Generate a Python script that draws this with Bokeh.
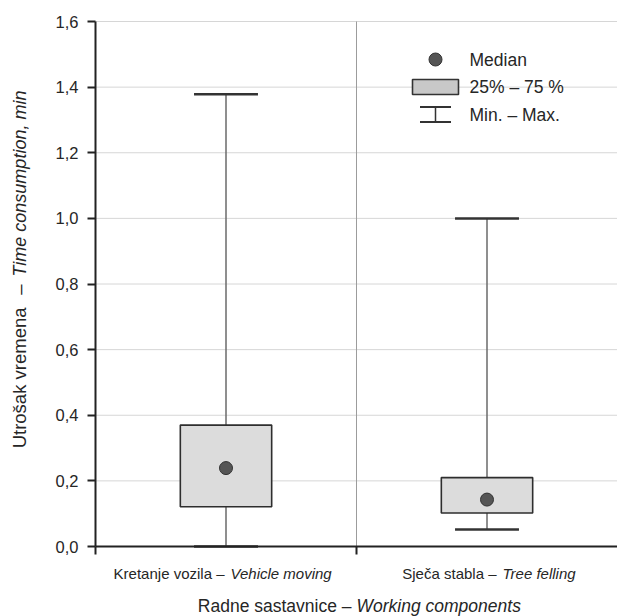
from bokeh.plotting import figure
from bokeh.models import Range1d, FixedTicker, Label
from bokeh.embed import file_html
from bokeh.resources import INLINE
import math

# ---------------- data ----------------
categories_hr = ["Kretanje vozila", "Sječa stabla"]
categories_en = ["Vehicle moving", "Tree felling"]
q_min = [0.0, 0.052]
q1 = [0.121, 0.102]
median = [0.239, 0.143]
q3 = [0.370, 0.210]
q_max = [1.378, 1.0]

y_ticks = [0.0, 0.2, 0.4, 0.6, 0.8, 1.0, 1.2, 1.4, 1.6]
y_tick_labels = ["0,0", "0,2", "0,4", "0,6", "0,8", "1,0", "1,2", "1,4", "1,6"]
legend_labels = ["Median", "25% – 75 %", "Min. – Max."]
x_title = ["Radne sastavnice –", "Working components"]
y_title = ["Utrošak vremena", "–", "Time consumption, min"]

# ---------------- layout ----------------
W, H = 617, 616
L, R, T, B = 95, 0, 21, 70          # margins around the data area, px
FW, FH = W - L - R, H - T - B
X0, X1, Y0, Y1 = 0, len(categories_hr), 0, 1.6
xpp = (X1 - X0) / FW                # data units per pixel
ypp = (Y1 - Y0) / FH
FONT = "Liberation Sans"
TXT = "#262626"

# the frame covers the whole canvas; axes are pinned at the data origin
p = figure(width=W, height=H,
           x_range=Range1d(X0 - L * xpp, X1 + R * xpp),
           y_range=Range1d(Y0 - B * ypp, Y1 + T * ypp),
           output_backend="svg", toolbar_location=None,
           min_border_left=0, min_border_right=0, min_border_top=0, min_border_bottom=0)
p.outline_line_color = None
p.background_fill_color = "white"
p.border_fill_color = "white"

for ax in (p.xaxis[0], p.yaxis[0]):
    ax.axis_line_color = "#222222"
    ax.axis_line_width = 2
    ax.major_tick_line_color = "#222222"
    ax.major_tick_line_width = 2
    ax.major_tick_out = 8
    ax.major_tick_in = 0
    ax.minor_tick_line_color = None
    ax.major_label_text_font = FONT
    ax.major_label_text_font_size = "16.5px"
    ax.major_label_text_color = TXT

x_bounds = list(range(len(categories_hr) + 1))
p.xaxis.fixed_location = Y0
p.xaxis.bounds = (X0, X1)
p.xaxis.ticker = FixedTicker(ticks=x_bounds[:-1])
p.xaxis.major_label_overrides = {b: "" for b in x_bounds}

p.yaxis.fixed_location = X0
p.yaxis.bounds = (Y0, Y1)
p.yaxis.ticker = FixedTicker(ticks=y_ticks)
p.yaxis.major_label_overrides = dict(zip(y_ticks, y_tick_labels))
p.yaxis.major_label_standoff = 9

# grid lines, limited to the data area
p.ygrid.visible = False
p.xgrid.visible = False
p.segment(x0=[X0] * len(y_ticks), x1=[X1] * len(y_ticks), y0=y_ticks, y1=y_ticks,
          line_color="#d6d6d6", line_width=1)
inner = x_bounds[1:-1]
p.segment(x0=inner, x1=inner, y0=[Y0] * len(inner), y1=[Y1] * len(inner),
          line_color="#9c9c9c", line_width=1)

# ---------------- boxes ----------------
xc = [i + 0.5 for i in range(len(categories_hr))]
box_w = 0.35
cap_w = 0.245

p.segment(x0=xc, y0=q_min, x1=xc, y1=q_max, line_color="#6a6a6a", line_width=1.5)
p.vbar(x=xc, width=box_w, bottom=q1, top=q3, fill_color="#dcdcdc",
       line_color="#2e2e2e", line_width=1.6)
for vals in (q_max, q_min):
    p.segment(x0=[x - cap_w / 2 for x in xc], y0=vals,
              x1=[x + cap_w / 2 for x in xc], y1=vals,
              line_color="#333333", line_width=2.5)
p.scatter(x=xc, y=median, size=13, fill_color="#555555", line_color="#333333", line_width=1)

# ---------------- texts ----------------
def dlabel(x, y, text, align, dx=0.0, dy=0.0, italic=False, size="15px", angle=0.0):
    return Label(x=x, y=y, x_offset=dx, y_offset=dy, text=text, angle=angle,
                 text_align=align, text_baseline="middle", text_font=FONT,
                 text_font_style="italic" if italic else "normal",
                 text_font_size=size, text_color=TXT)

cat_split = [(-1.5, 4.5), (9.5, 15.5)]
cat_dy = -27
for i, x in enumerate(xc):
    a, b = cat_split[i]
    p.add_layout(dlabel(x, Y0, categories_hr[i] + " –", "right", dx=a, dy=cat_dy))
    p.add_layout(dlabel(x, Y0, categories_en[i], "left", dx=b, dy=cat_dy, italic=True))

xmid = (X0 + X1) / 2
xt_dy = -59
p.add_layout(dlabel(xmid, Y0, x_title[0], "right", dx=-5, dy=xt_dy, size="17.5px"))
p.add_layout(dlabel(xmid, Y0, x_title[1], "left", dx=0, dy=xt_dy, italic=True, size="17.5px"))

yt_dx = -76
p.add_layout(dlabel(X0, Y0, y_title[0], "right", dx=yt_dx, dy=239, size="18.5px", angle=math.pi / 2))
p.add_layout(dlabel(X0, Y0, y_title[1], "center", dx=yt_dx, dy=257, size="18.5px", angle=math.pi / 2))
p.add_layout(dlabel(X0, Y0, y_title[2], "left", dx=yt_dx, dy=270, italic=True, size="18px",
                    angle=math.pi / 2))

# ---------------- legend (drawn manually, pixel offsets from the data area's top-right) ----------------
def lx(dx):
    return X1 - dx * xpp

def ly(dy):
    return Y1 - dy * ypp

icon_dx = 182            # icon centre, px left of the right edge
row_dy = [38, 65.5, 93]  # row centres, px below the top of the data area
text_dx = 148

p.scatter(x=[lx(icon_dx)], y=[ly(row_dy[0])], size=13, fill_color="#555555",
          line_color="#333333", line_width=1)
p.quad(left=[lx(icon_dx + 23)], right=[lx(icon_dx - 23)],
       top=[ly(row_dy[1] - 7.5)], bottom=[ly(row_dy[1] + 7.5)],
       fill_color="#c8c8c8", line_color="#333333", line_width=1.6)
p.segment(x0=[lx(icon_dx + 15.5)] * 2, x1=[lx(icon_dx - 15.5)] * 2,
          y0=[ly(row_dy[2] - 7.5), ly(row_dy[2] + 7.5)],
          y1=[ly(row_dy[2] - 7.5), ly(row_dy[2] + 7.5)],
          line_color="#333333", line_width=2)
p.segment(x0=[lx(icon_dx)], x1=[lx(icon_dx)], y0=[ly(row_dy[2] - 7.5)], y1=[ly(row_dy[2] + 7.5)],
          line_color="#333333", line_width=1.5)
for lab, dy in zip(legend_labels, row_dy):
    p.add_layout(dlabel(lx(text_dx), ly(dy), lab, "left", size="17.5px"))

open("out.html", "w").write(file_html(p, INLINE))
